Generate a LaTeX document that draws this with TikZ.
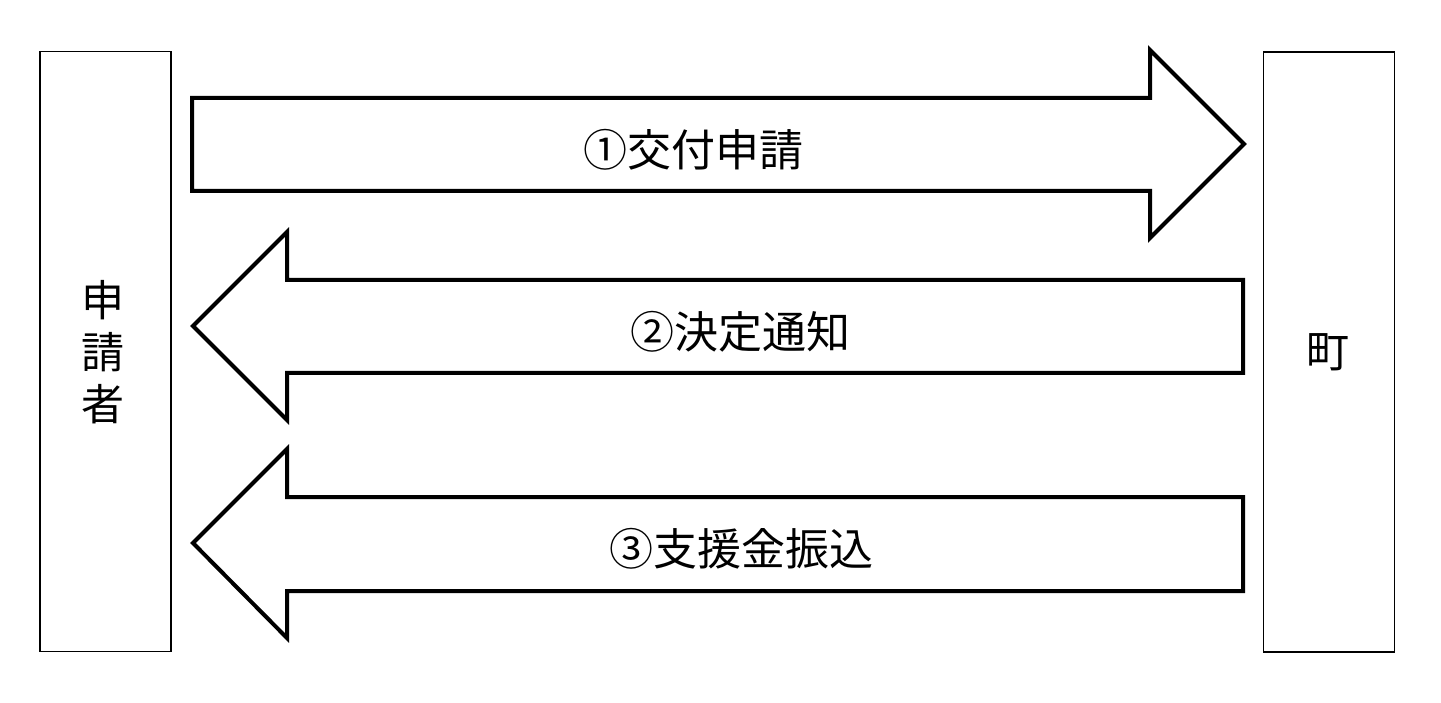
\documentclass[tikz,border=0pt]{standalone}
\usepackage{fontspec}
\newfontfamily\jpfont{Noto Sans CJK JP}
\tikzset{
  party/.style={draw=black, line width=1.6pt, minimum width=131pt, minimum height=600pt, inner sep=0pt},
  blockarrow/.style={draw=black, line width=4pt, line join=miter, fill=white},
  lbl/.style={font=\jpfont\fontsize{43}{52}\selectfont, inner sep=0pt, anchor=center},
  albl/.style={font=\jpfont\fontsize{44}{52}\selectfont, inner sep=0pt, anchor=center}
}
\begin{document}
\begin{tikzpicture}[x=1pt,y=-1pt]
\useasboundingbox (0,0) rectangle (1441,703);
% parties
\node[party] (appl) at (105.5,351.5) {};
\node[party] (town) at (1329,352) {};
\node[lbl, align=center] (applt) at (103,352) {申\\請\\者};
\node[lbl] (townt) at (1328,352) {町};
% arrow 1: to the right
\draw[blockarrow] (192,98) -- (1150,98) -- (1150,50) -- (1244,144) -- (1150,238) -- (1150,191) -- (192,191) -- cycle;
\node[albl] (a1) at (693,150) {①交付申請};
% arrow 2: to the left
\draw[blockarrow] (1243,280) -- (287,280) -- (287,232) -- (193,326) -- (287,420) -- (287,373) -- (1243,373) -- cycle;
\node[albl] (a2) at (740,332) {②決定通知};
% arrow 3: to the left
\draw[blockarrow] (1243,497) -- (287,497) -- (287,449) -- (193,543) -- (287,638) -- (287,591) -- (1243,591) -- cycle;
\node[albl] (a3) at (741,549) {③支援金振込};
\end{tikzpicture}
\end{document}
